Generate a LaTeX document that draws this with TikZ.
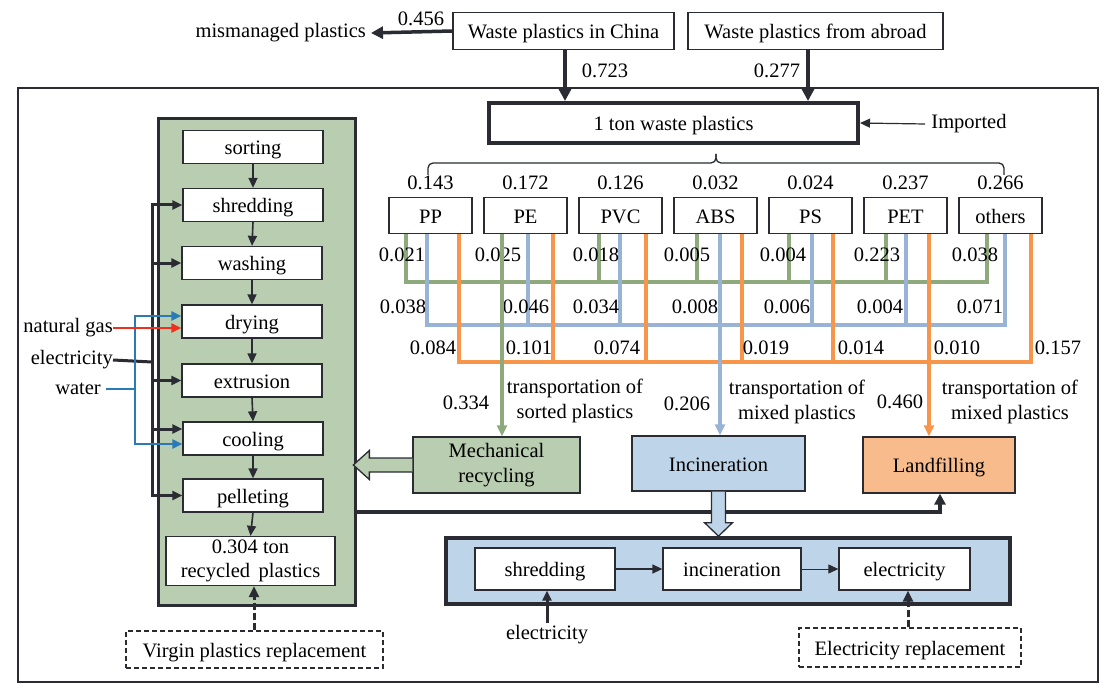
\documentclass[tikz,border=0pt]{standalone}
\usepackage{fontspec}
\setmainfont{Liberation Serif}
\usetikzlibrary{arrows.meta}
\definecolor{dk}{HTML}{2A2B33}
\definecolor{gline}{HTML}{8EAA7C}
\definecolor{bline}{HTML}{98B3D6}
\definecolor{oline}{HTML}{F7964A}
\definecolor{gfill}{HTML}{B9CDB0}
\definecolor{bfill}{HTML}{BDD4E9}
\definecolor{ofill}{HTML}{F8BB8B}
\definecolor{rline}{HTML}{F0301E}
\definecolor{wline}{HTML}{2A7AB5}
\begin{document}
\begin{tikzpicture}[x=1pt,y=-1pt,font=\fontsize{20.5}{25}\selectfont,
  bx/.style={draw=dk,line width=1.3pt,fill=white,inner sep=0pt,align=center},
  tb/.style={bx,text height=16.5pt,text depth=1.5pt},
  lbl/.style={inner sep=0pt,align=center},
  arr/.style={-{Triangle[length=10pt,width=9pt]}},
  bigarr/.style={-{Triangle[length=12pt,width=12pt]}},
  carr/.style={-{Triangle[length=11pt,width=10pt]}},
  gl/.style={gline,line width=3.2pt},
  bl/.style={bline,line width=3.2pt},
  ol/.style={oline,line width=3.2pt},
  kl/.style={dk,line width=3pt},
  stepbox/.style={tb,minimum width=140,minimum height=33},
  dbox/.style={draw=dk,line width=1.5pt,dash pattern=on 5pt off 3pt,inner sep=0pt,text height=16.5pt,text depth=1.5pt},
  darr/.style={dk,line width=3pt,dash pattern=on 7pt off 3pt,-{Triangle[length=11pt,width=10pt]}},
]
\useasboundingbox (0,0) rectangle (1116,695);
% outer frame
\draw[dk,line width=1.3pt] (18,88) rectangle (1098,682);

% top
\node[tb,minimum width=221,minimum height=37] (china) at (563.5,31) {Waste plastics in China};
\node[tb,minimum width=255,minimum height=37] (abroad) at (815.5,31) {Waste plastics from abroad};
\node[lbl,anchor=east] (mis) at (366,33) {mismanaged plastics};
\draw[dk,line width=3.5pt,bigarr] (china.west) -- ([xshift=5pt]mis.east);
\node[lbl] at (421,19) {0.456};
\node[tb,line width=4pt,minimum width=369,minimum height=40] (ton) at (673.5,123) {1 ton waste plastics};
\draw[dk,line width=3.5pt,bigarr] ([xshift=1.5pt]china.south) -- ([xshift=1.5pt]china.south |- ton.north);
\node[lbl] at (605,71) {0.723};
\draw[dk,line width=3.5pt,bigarr] ([xshift=-7.5pt]abroad.south) -- ([xshift=-7.5pt]abroad.south |- ton.north);
\node[lbl] at (777,71) {0.277};
\node[lbl] (imp) at (969,124) {Imported};
\draw[dk,line width=1.2pt,arr] ([xshift=-6pt]imp.west) -- (ton.east);

% brace
\draw[dk,line width=1.3pt,rounded corners=5pt] (428,175) -- (428,163) -- (716,163) -- (716,154);
\draw[dk,line width=1.3pt,rounded corners=5pt] (716,154) -- (716,163) -- (1004,163) -- (1004,175);

% plastics
\foreach \n/\t/\c/\v in {pp/PP/430.5/0.143,pe/PE/525.5/0.172,pvc/PVC/620.5/0.126,abs/ABS/715.5/0.032,ps/PS/810.5/0.024,pet/PET/905.5/0.237,oth/others/1000.5/0.266}{
  \node[tb,minimum width=83,minimum height=36] (\n) at (\c,215.5) {\t};
  \node[lbl] at (\c,183) {\v};
}

% green network
\draw[gl] (pp.south -| 406,0) |- (987,282) -- (oth.south -| 987,0);
\foreach \n/\x in {pvc/599,abs/697,ps/789,pet/886}{
  \draw[gl] (\n.south -| \x,0) -- (\x,282);
}
% blue network
\draw[bl] (pp.south -| 427,0) |- (1005,325) -- (oth.south -| 1005,0);
\foreach \n/\x in {pe/528,pvc/620,ps/812,pet/906}{
  \draw[bl] (\n.south -| \x,0) -- (\x,325);
}
% orange network
\draw[ol] (pp.south -| 459,0) |- (1031,362) -- (oth.south -| 1031,0);
\foreach \n/\x in {pe/553,pvc/646,abs/742,ps/833}{
  \draw[ol] (\n.south -| \x,0) -- (\x,362);
}

% numbers on lines
\foreach \x/\v in {402/0.021,498/0.025,596/0.018,687/0.005,783/0.004,877/0.223,975/0.038}{
  \node[lbl] at (\x,255) {\v};
}
\foreach \x/\v in {403/0.038,526/0.046,596/0.034,695/0.008,787/0.006,880/0.004,980/0.071}{
  \node[lbl] at (\x,307) {\v};
}
\foreach \x/\v in {433/0.084,529/0.101,617/0.074,766/0.019,861/0.014,957/0.010,1058/0.157}{
  \node[lbl] at (\x,348) {\v};
}

% destinations
\node[bx,fill=gfill,minimum width=167,minimum height=56] (mech) at (496.5,465) {Mechanical\\recycling};
\node[tb,fill=bfill,minimum width=173,minimum height=55] (incin) at (718.5,463.5) {Incineration};
\node[tb,fill=ofill,minimum width=152,minimum height=56] (landf) at (939,465) {Landfilling};

\draw[gl,carr] (pe.south -| 502,0) -- (mech.north -| 502,0);
\draw[bl,carr] (abs.south -| 720,0) -- (incin.north -| 720,0);
\draw[ol,carr] (pet.south -| 929,0) -- (landf.north -| 929,0);

\node[lbl] at (466,403) {0.334};
\node[lbl] at (575,401) {transportation of\\sorted plastics};
\node[lbl] at (687,404) {0.206};
\node[lbl] at (797,402) {transportation of\\mixed plastics};
\node[lbl] at (900,402) {0.460};
\node[lbl] at (1010,402) {transportation of\\mixed plastics};

% mechanical recycling detail
\node[draw=dk,line width=3pt,fill=gfill,minimum width=197,minimum height=486,inner sep=0pt] (mr) at (256.5,362) {};
\node[stepbox] (sort) at (253,147) {sorting};
\node[stepbox] (shred) at (253,205) {shredding};
\node[stepbox] (wash) at (252,263) {washing};
\node[stepbox] (dry) at (252,321.5) {drying};
\node[stepbox] (extr) at (252,380.5) {extrusion};
\node[stepbox] (cool) at (253,438.5) {cooling};
\node[stepbox] (pell) at (253,495.5) {pelleting};
\node[bx,minimum width=169,minimum height=49,font=\fontsize{20.5}{24}\selectfont] (rec) at (250.5,561) {0.304 ton\\recycled\, plastics};
\foreach \a/\b in {sort/shred,shred/wash,wash/dry,dry/extr,extr/cool,cool/pell,pell/rec}{
  \draw[dk,line width=1.6pt,arr] (\a.south) -- (\b.north);
}

% inputs
\node[lbl,anchor=east] (gas) at (113,328) {natural gas};
\node[lbl,anchor=east] (elec) at (113,360) {electricity};
\node[lbl,anchor=east] (water) at (101,389) {water};
\coordinate (ej) at (152,362);
\coordinate (wj) at (135,389);
\draw[kl] (elec.east) -- (ej);
\draw[kl,arr] (ej) |- (shred.west);
\draw[kl,arr] (ej) |- (wash.west);
\draw[kl,arr] (ej) |- (extr.west);
\draw[kl,arr] (ej) |- ([yshift=9.5pt]cool.west);
\draw[kl,arr] (ej) |- (pell.west);
\draw[wline,line width=2.8pt] ([xshift=5pt]water.east) -- (wj);
\draw[wline,line width=2.8pt,arr] (wj) |- ([yshift=5.5pt]dry.west);
\draw[wline,line width=2.8pt,arr] (wj) |- ([yshift=-5.5pt]cool.west);
\draw[rline,line width=2.8pt,arr] (gas.east) -- ([yshift=-6.5pt]dry.west);

% hollow arrow mech -> detail
\draw[dk,line width=1.3pt,fill=gfill] (mech.west) ++(0,-7) -- ++(-43,0) -- ++(0,-7.5) -- ++(-16,14.5) -- ++(16,14.5) -- ++(0,-7.5) -- ++(43,0);

% black line to landfill
\draw[dk,line width=3.5pt,-{Triangle[length=11pt,width=11pt]}] (mr.east |- 0,512) -- (940,512) -- (landf.south -| 940,0);

% incineration detail
\node[draw=dk,line width=3.5pt,fill=bfill,minimum width=564,minimum height=66,inner sep=0pt] (ib) at (728,571) {};
\draw[dk,line width=1.3pt,fill=bfill] (incin.south) ++(-7,0) -- ++(0,31) -- ++(-7,0) -- ++(14,13.5) -- ++(14,-13.5) -- ++(-7,0) -- ++(0,-31);
\node[tb,minimum width=140,minimum height=42] (sh2) at (545,569) {shredding};
\node[tb,minimum width=138,minimum height=42] (in2) at (732,569) {incineration};
\node[tb,minimum width=131,minimum height=42] (el2) at (904.5,569) {electricity};
\draw[dk,line width=1.3pt,arr] (sh2.east) -- (in2.west);
\draw[dk,line width=1pt,arr] (in2.east) -- (el2.west);
\node[lbl] (elb) at (547,635) {electricity};
\draw[dk,line width=3pt,arr] ([yshift=2pt]elb.north) -- (elb.north |- sh2.south);

% replacements
\node[dbox,minimum width=222,minimum height=39] (erep) at (910,647.5) {Electricity replacement};
\draw[darr] (erep.north -| 908,0) -- (el2.south -| 908,0);
\node[dbox,minimum width=257,minimum height=37] (vrep) at (254.5,649.5) {Virgin plastics replacement};
\draw[darr] (vrep.north -| 254,0) -- (rec.south -| 254,0);
\end{tikzpicture}
\end{document}
